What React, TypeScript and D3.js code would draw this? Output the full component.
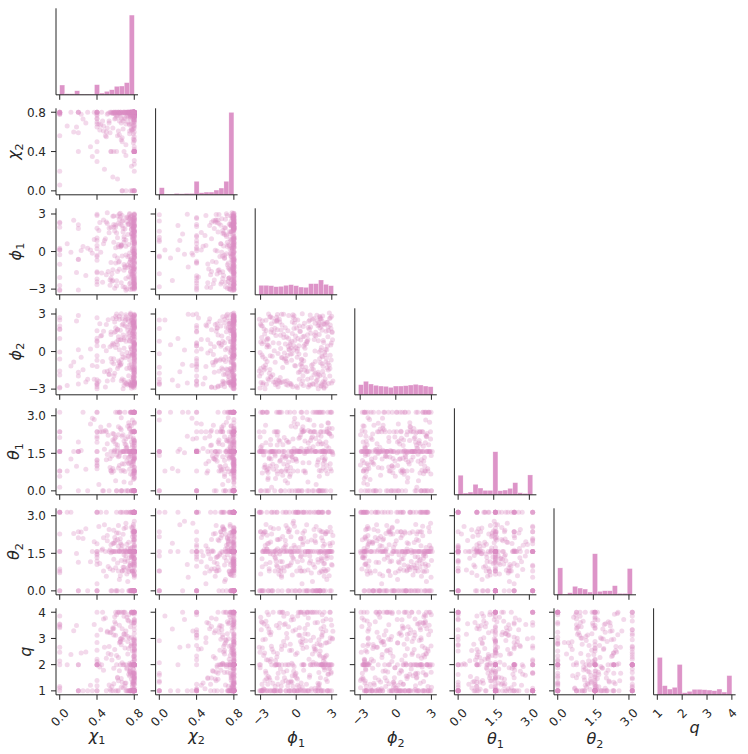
import React from 'react';
import * as d3 from 'd3';

// samples, one array per parameter
const chi1 = [
  0.78, 0.8, 0.4, 0.76, 0.62, 0.8, 0.79, 0, 0.71, 0.8, 0.77, 0.55, 0.8, 0.78, 0.66, 0.8, 0.75, 0.79, 0.4, 0.8,
  0.8, 0.2, 0.79, 0.68, 0.8, 0, 0.77, 0.8, 0.58, 0.8, 0.74, 0.4, 0.79, 0.8, 0.63, 0.76, 0, 0.8, 0.78, 0.51,
  0.79, 0.8, 0.65, 0.4, 0.8, 0.77, 0.8, 0.72, 0, 0.8, 0.6, 0.79, 0.8, 0.76, 0.47, 0.8, 0.78, 0.12, 0.8, 0.69,
  0.8, 0.76, 0.4, 0.8, 0.79, 0.56, 0.8, 0, 0.78, 0.8, 0.67, 0.2, 0.8, 0.75, 0.8, 0.61, 0.79, 0.8, 0.73, 0.4,
  0.77, 0.8, 0, 0.8, 0.64, 0.79, 0.8, 0.4, 0.78, 0.53, 0.8, 0.76, 0.8, 0.7, 0.8, 0.3, 0.79, 0.8, 0.59, 0,
  0.8, 0.78, 0.66, 0.8, 0.2, 0.79, 0.8, 0.74, 0.4, 0.8, 0.77, 0.57, 0.8, 0, 0.8, 0.62, 0.76, 0.8, 0.79, 0.45,
  0.79, 0.8, 0.4, 0.8, 0.72, 0.78, 0.08, 0.8, 0.6, 0.8, 0.77, 0.8, 0.68, 0, 0.79, 0.8, 0.5, 0.76, 0.8, 0.4,
  0.8, 0.75, 0.8, 0.63, 0.79, 0, 0.8, 0.4, 0.78, 0.8, 0.7, 0.8, 0.2, 0.77, 0.55, 0.8, 0.79, 0.8, 0.65, 0.35,
  0.78, 0.8, 0.61, 0.4, 0.8, 0.79, 0, 0.8, 0.73, 0.76, 0.8, 0.25, 0.8, 0.67, 0.8, 0.79, 0.58, 0.4, 0.8, 0.77,
  0.8, 0.79, 0, 0.8, 0.69, 0.4, 0.8, 0.76, 0.2, 0.8, 0.64, 0.78, 0.8, 0.46, 0.8, 0.75, 0.8, 0.71, 0.4, 0.79,
  0.74, 0.57, 0.79, 0.68, 0.49, 0.8, 0.63, 0.71, 0.33, 0.77, 0.6, 0.75, 0.52, 0.8, 0.66, 0.78, 0.44, 0.72, 0.8, 0.59,
  0.7, 0.8, 0.54, 0.76, 0.65, 0.18, 0.79, 0.61, 0.73, 0.8, 0.48, 0.69, 0.77, 0.56, 0.8, 0.64, 0.75, 0.28, 0.78, 0.67,
  0.8, 0.62, 0.73, 0.5, 0.78, 0.69, 0.8, 0.58, 0.76, 0.42, 0.8, 0.66, 0.74, 0.79, 0.55, 0.71, 0.8, 0.64, 0.37, 0.77,
  0.6, 0.79, 0.7, 0.8, 0.53, 0.75, 0.67, 0.8, 0.47, 0.72, 0.78, 0.63, 0.8, 0.57, 0.74, 0.23, 0.79, 0.68, 0.8, 0.51,
  0.76, 0.65, 0.8, 0.71, 0.59, 0.78, 0.43, 0.8, 0.69, 0.62, 0.77, 0.8, 0.54, 0.73, 0.15, 0.79, 0.66, 0.8, 0.58, 0.75,
];
const chi2 = [
  0.8, 0.79, 0.4, 0.8, 0.77, 0.8, 0.66, 0.8, 0, 0.78, 0.8, 0.4, 0.72, 0.8, 0.79, 0.8, 0.58, 0.76, 0.8, 0.4,
  0.79, 0.8, 0.8, 0.63, 0.4, 0.78, 0.8, 0.75, 0.8, 0, 0.8, 0.7, 0.79, 0.4, 0.8, 0.77, 0.8, 0.52, 0.8, 0.78,
  0.8, 0.4, 0.76, 0.8, 0.79, 0.68, 0.8, 0.8, 0.2, 0.78, 0.8, 0.74, 0.4, 0.8, 0.61, 0.79, 0, 0.8, 0.77, 0.8,
  0.78, 0.8, 0.73, 0.4, 0.8, 0.79, 0.8, 0.56, 0.8, 0.76, 0, 0.8, 0.8, 0.67, 0.79, 0.4, 0.8, 0.75, 0.8, 0.3,
  0.8, 0.77, 0.8, 0.4, 0.79, 0.8, 0.64, 0.8, 0.78, 0.71, 0.8, 0, 0.8, 0.79, 0.45, 0.8, 0.76, 0.4, 0.8, 0.8,
  0.79, 0.8, 0.69, 0.8, 0.4, 0.78, 0.8, 0.8, 0.74, 0, 0.8, 0.79, 0.6, 0.8, 0.77, 0.12, 0.8, 0.4, 0.78, 0.8,
  0.8, 0.76, 0.8, 0.4, 0.79, 0.8, 0.66, 0.8, 0.78, 0.8, 0.25, 0.75, 0.8, 0.79, 0.4, 0.8, 0.55, 0.8, 0, 0.77,
  0.78, 0.8, 0.4, 0.8, 0.72, 0.79, 0.8, 0.8, 0.62, 0.77, 0.8, 0, 0.8, 0.79, 0.4, 0.8, 0.7, 0.76, 0.8, 0.35,
  0.8, 0.79, 0.8, 0.65, 0.4, 0.8, 0.78, 0.2, 0.8, 0.76, 0.8, 0.73, 0.79, 0, 0.8, 0.8, 0.4, 0.68, 0.77, 0.8,
  0.79, 0.8, 0.06, 0.8, 0.4, 0.78, 0.8, 0.75, 0.59, 0.8, 0.79, 0, 0.8, 0.71, 0.4, 0.8, 0.77, 0.8, 0.5, 0.8,
  0.79, 0.64, 0.8, 0.71, 0.56, 0.77, 0.8, 0.68, 0.45, 0.8, 0.74, 0.61, 0.79, 0.8, 0.52, 0.76, 0.67, 0.8, 0.31, 0.73,
  0.8, 0.7, 0.59, 0.78, 0.8, 0.65, 0.49, 0.76, 0.8, 0.72, 0.22, 0.79, 0.63, 0.8, 0.75, 0.57, 0.8, 0.69, 0.78, 0.54,
  0.66, 0.8, 0.77, 0.6, 0.8, 0.73, 0.42, 0.79, 0.8, 0.68, 0.55, 0.8, 0.75, 0.63, 0.8, 0.36, 0.77, 0.71, 0.8, 0.62,
  0.8, 0.58, 0.74, 0.8, 0.69, 0.79, 0.5, 0.8, 0.66, 0.76, 0.8, 0.61, 0.72, 0.14, 0.8, 0.78, 0.53, 0.8, 0.7, 0.64,
  0.73, 0.8, 0.67, 0.47, 0.79, 0.8, 0.62, 0.75, 0.8, 0.56, 0.77, 0.27, 0.8, 0.7, 0.6, 0.8, 0.74, 0.51, 0.8, 0.68,
];
const phi1 = [
  -2.91, 1.37, 0.22, -1.65, 2.84, -0.48, 2.11, -3.05, 0.93, -2.27, 1.79, -0.87, 3.02, -1.12, 0.51, 2.46, -2.58, -0.15, 1.08, -1.94,
  2.67, -0.63, -2.39, 1.56, 0.07, -3.11, 2.02, -1.37, 0.74, 2.93, -2.02, -0.29, 1.92, -2.76, 0.38, -1.58, 2.29, -0.99, 1.23, 3.09,
  -1.81, 0.64, 2.18, -2.63, -0.41, 1.45, -3.01, 2.75, 0.15, -1.24, 1.97, -2.15, 0.86, -0.72, 2.52, -2.88, 1.14, -0.05, 2.07, -1.49,
  0.31, -2.47, 2.88, -0.94, 1.66, -1.77, 0.58, 2.33, -2.99, 1.01, -0.36, 2.14, -1.63, 2.61, -0.21, -2.33, 1.82, 0.47, -1.06, 2.98,
  -0.58, 2.41, -2.71, 1.29, -1.42, 0.02, 2.96, -2.19, 0.69, 1.88, -0.81, -2.82, 2.23, -1.17, 1.52, 0.26, -2.54, 2.71, -0.33, 1.95,
  1.71, -1.89, 0.44, 2.57, -3.08, -0.67, 1.18, 2.26, -2.42, 0.81, -1.31, 2.81, 0.11, -2.07, 1.61, -0.52, 2.39, -2.94, 0.99, -1.71,
  -2.23, 0.18, 1.87, -0.77, 2.69, -1.53, 0.62, -2.66, 2.12, -0.09, 1.41, -2.97, 2.48, -1.01, 0.35, 1.99, -1.85, 2.79, -0.44, 0.89,
  2.21, -1.19, -2.51, 0.56, 1.33, -0.25, 2.91, -1.69, 0.04, 2.04, -2.85, 1.63, -0.61, 2.35, -2.12, 0.78, 1.91, -1.45, 3.06, -0.13,
  0.95, -2.79, 1.49, -0.39, 2.63, -1.97, 0.27, 2.09, -1.28, -3.04, 1.74, 0.41, -0.91, 2.44, -2.36, 1.06, 2.17, -1.61, -0.19, 2.86,
  -1.35, 2.28, 0.13, -2.61, 1.19, -0.7, 2.54, -2.09, 1.84, -0.02, 2.99, -1.78, 0.67, -2.45, 2.01, -0.85, 1.58, -3.1, 0.49, 2.31,
  0.57, -1.46, 2.62, -2.81, 1.02, -0.33, 2.27, -2.16, 0.12, 1.76, -0.92, 2.95, -1.59, 0.71, -2.49, 1.43, -0.06, 2.39, -1.23, -2.93,
  1.83, -0.55, -2.28, 2.72, 0.36, -1.67, 1.28, -2.74, 2.16, -0.18, 0.88, -1.04, 2.51, -2.37, 1.59, -0.79, 3.03, -1.91, 0.23, 2.09,
  -2.6, 1.11, -0.42, 2.36, -1.14, 0.74, -2.03, 2.83, -0.65, 1.68, -2.88, 0.47, 2.19, -1.52, 1.94, -0.27, -2.21, 2.58, 0.96, -1.8,
  0.31, 2.45, -1.27, -2.55, 1.5, -0.11, 2.87, -1.74, 0.63, -2.99, 2.02, -0.86, 1.21, -2.31, 2.67, 0.08, -1.39, 1.86, -0.5, 2.24,
  -1.06, 2.78, -2.45, 0.42, 1.64, -0.74, 2.31, -2.12, 0.99, -1.6, 2.12, -0.22, -2.7, 1.37, 2.5, -1.33, 0.55, -2.86, 1.97, -0.37,
];
const phi2 = [
  1.12, -2.58, 0.47, 2.73, -1.36, -0.21, 2.05, -2.91, 0.83, -1.74, 2.48, -0.56, 1.59, -2.42, 3.01, 0.16, -1.07, 2.26, -2.66, 0.71,
  -0.94, 2.87, -2.17, 1.33, 0.02, -1.55, 2.61, -2.49, 0.58, 1.85, -0.38, -2.81, 2.14, -1.21, 0.92, 2.95, -1.88, -0.12, 1.47, -2.35,
  2.39, -0.73, 1.71, -2.98, 0.29, -1.43, 2.18, -2.55, 1.04, -0.47, 2.79, -1.99, 0.63, -2.7, 1.62, -0.28, 2.52, -1.15, 0.11, -2.29,
  -1.62, 0.37, 2.69, -2.38, 1.25, -0.85, 2.01, -2.86, 0.76, 1.93, -0.17, -2.6, 2.43, -1.31, 0.49, 2.99, -2.04, -0.62, 1.38, -2.52,
  0.19, -2.44, 1.81, -1.09, 2.57, -2.77, 0.68, -0.33, 2.27, -1.81, 1.16, -2.63, 2.84, -0.49, 0.97, -2.21, 1.68, -1.48, 2.36, -0.04,
  -2.68, 1.51, -0.66, 2.32, -1.96, 0.41, 2.92, -2.41, 1.07, -1.26, 0.24, 2.64, -2.89, 1.77, -0.79, 0.55, -2.53, 2.09, -1.58, 1.29,
  2.76, -1.68, 0.86, -2.33, 1.97, -0.15, -2.72, 1.41, 0.33, 2.55, -1.02, -2.47, 2.2, -0.59, 1.63, -1.91, 0.07, 3.07, -2.57, 0.79,
  -0.41, 2.12, -2.62, 1.19, -1.39, 2.71, 0.52, -2.26, 1.88, -0.9, 2.45, -1.73, 0.14, -2.93, 1.56, -0.25, 2.3, -2.39, 0.95, -1.12,
  1.35, -2.5, 2.63, -0.7, 0.45, -1.85, 2.04, -2.74, 1.73, -0.08, 2.89, -1.45, 0.61, -2.19, 1.01, 2.42, -0.97, -2.59, 1.84, -0.3,
  -2.08, 0.89, 2.51, -1.33, -2.69, 1.66, -0.53, 2.23, -1.66, 0.3, 2.81, -2.45, 1.22, -0.8, 1.9, -2.64, 0.04, 2.58, -1.19, 0.73,
  -1.93, 0.66, 2.34, -0.44, -2.84, 1.45, -1.17, 2.77, 0.21, -2.3, 1.91, -0.68, 2.53, -1.5, 0.94, -2.61, 1.24, -0.07, 2.97, -1.73,
  2.06, -2.54, 0.38, 1.69, -1.03, 2.44, -2.11, 0.79, -0.35, 2.85, -1.62, 1.13, -2.75, 0.51, 2.27, -0.88, 1.52, -2.43, -0.19, 2.61,
  -0.6, 1.78, -2.67, 2.16, -1.28, 0.27, 2.68, -1.95, 1.04, -2.38, 0.62, -0.98, 2.41, -2.82, 1.36, 2.93, -1.44, 0.15, -2.21, 1.87,
  1.61, -0.24, -2.48, 2.49, -1.84, 0.88, 2.12, -2.65, 0.43, -1.35, 2.73, -0.76, 1.97, -2.27, 1.18, -0.45, 2.35, -2.97, 0.7, -1.58,
  2.98, -1.1, 0.55, -2.6, 1.55, -0.31, 2.22, -2.05, 0.97, 1.74, -2.76, 0.12, -1.47, 2.58, -0.83, 1.3, -2.34, 2.04, -0.58, 0.83,
];
const theta1 = [
  1.57, 0, 2.1, 3.14, 1.57, 0.93, 2.36, 1.57, 0, 1.32, 3.14, 0.79, 1.57, 1.84, 0, 1.57, 2.62, 3.14, 1.12, 1.57,
  3.14, 1.57, 0.45, 1.57, 0, 2.36, 1.57, 1.98, 0.79, 3.14, 1.57, 1.21, 0, 1.57, 2.24, 0.67, 3.14, 1.57, 2.36, 1.45,
  0, 1.57, 3.14, 1.03, 1.57, 2.36, 0, 1.71, 1.57, 0.79, 3.14, 2.05, 1.57, 0.31, 0, 1.57, 2.83, 1.27, 3.14, 1.57,
  1.57, 3.14, 0.88, 0, 1.57, 1.39, 2.36, 1.57, 3.14, 1.91, 0, 1.57, 0.79, 2.47, 1.57, 0, 1.15, 3.14, 1.57, 2.18,
  0, 1.57, 2.36, 1.62, 3.14, 1.57, 0.79, 0.99, 1.57, 0, 2.01, 3.14, 1.57, 1.35, 2.36, 0, 1.57, 2.7, 1.57, 0.58,
  3.14, 1.57, 0, 1.78, 1.57, 0.79, 2.36, 1.08, 3.14, 1.57, 0, 2.29, 1.57, 0.14, 1.57, 3.14, 1.48, 0, 1.57, 2.36,
  1.57, 0, 1.24, 3.14, 1.57, 2.36, 0.79, 1.57, 1.87, 0, 3.14, 1.57, 0.82, 2.13, 1.57, 0, 2.36, 1.57, 1.41, 3.14,
  0, 1.57, 3.14, 2.56, 1.57, 0.79, 0, 1.57, 1.18, 2.36, 3.14, 1.57, 1.95, 0, 1.57, 0.72, 3.14, 1.57, 1.52, 2.9,
  1.57, 3.14, 0, 1.57, 2.36, 1.06, 1.57, 0.79, 0, 2.15, 1.57, 3.14, 1.3, 1.57, 0.52, 0, 1.57, 2.36, 1.69, 3.14,
  3.14, 1.57, 0.79, 0, 1.57, 1.94, 2.36, 1.57, 0, 1.26, 3.14, 1.57, 2.4, 0, 1.57, 0.86, 3.14, 1.57, 2.36, 1.61,
  1.12, 2.03, 0.68, 1.57, 2.41, 1.35, 0.91, 1.84, 2.67, 1.02, 0.4, 1.57, 2.22, 1.49, 0.79, 1.76, 2.55, 1.19, 3.14, 1.63,
  1.87, 0.57, 1.28, 2.31, 1.57, 0.98, 2.11, 1.43, 0, 2.74, 1.66, 1.07, 1.95, 0.73, 2.36, 1.39, 2.49, 0.86, 1.57, 2.18,
  0.95, 1.71, 2.58, 1.24, 0.62, 1.99, 1.57, 2.27, 1.15, 0.25, 1.81, 2.44, 1.33, 3.14, 0.81, 2.07, 1.54, 1.01, 2.85, 1.46,
  2.14, 1.29, 0.77, 1.92, 2.62, 1.57, 1.08, 0.49, 2.38, 1.74, 0, 1.36, 2.01, 0.89, 2.72, 1.61, 1.18, 2.24, 0.66, 1.88,
  1.41, 2.5, 0.84, 1.69, 2.09, 1.0, 2.36, 1.27, 0.35, 1.83, 2.6, 1.52, 0.93, 2.16, 1.57, 1.22, 2.92, 0.71, 1.97, 1.36,
];
const theta2 = [
  0, 1.57, 3.14, 1.02, 0, 1.57, 2.36, 3.14, 1.57, 0.79, 0, 1.84, 1.57, 3.14, 1.21, 0, 1.57, 2.58, 3.14, 1.45,
  3.14, 0, 1.57, 0.94, 1.57, 3.14, 0, 2.07, 1.57, 2.36, 0, 1.33, 3.14, 1.57, 0.79, 1.68, 0, 1.57, 3.14, 2.21,
  1.57, 0, 3.14, 1.57, 1.12, 0, 2.36, 3.14, 1.57, 0.61, 0, 1.95, 3.14, 1.57, 0.79, 0, 1.39, 3.14, 1.57, 2.49,
  0, 3.14, 1.57, 1.76, 0, 1.57, 3.14, 0.87, 2.36, 1.57, 0, 2.12, 3.14, 1.57, 1.27, 0, 3.14, 0.79, 1.57, 1.05,
  3.14, 1.57, 0, 2.03, 1.57, 3.14, 0, 1.48, 0.79, 1.57, 3.14, 0, 2.36, 1.16, 1.57, 0, 2.65, 3.14, 1.57, 0.72,
  0, 1.57, 3.14, 1.29, 0, 2.36, 1.57, 3.14, 1.88, 0, 0.79, 1.57, 3.14, 2.27, 0, 1.57, 1.09, 3.14, 1.57, 1.62,
  1.57, 3.14, 0, 0.98, 1.57, 0, 3.14, 2.36, 1.57, 1.73, 0, 3.14, 1.57, 0.79, 1.36, 0, 3.14, 1.57, 2.16, 0,
  3.14, 0, 1.57, 2.31, 0, 3.14, 1.57, 1.19, 0.79, 0, 1.57, 3.14, 2.36, 1.51, 0, 1.57, 3.14, 0.66, 1.92, 1.57,
  0, 1.57, 3.14, 1.43, 2.36, 0, 1.57, 3.14, 0.91, 0, 1.57, 2.09, 3.14, 0.79, 1.57, 0, 1.26, 3.14, 1.57, 2.54,
  1.57, 0, 3.14, 1.81, 1.57, 0, 2.36, 3.14, 1.14, 0, 1.57, 0.79, 3.14, 1.67, 0, 1.57, 2.0, 3.14, 0.28, 1.57,
  1.94, 0.82, 1.41, 2.26, 1.57, 0.63, 1.78, 2.53, 1.16, 0, 2.01, 1.33, 0.97, 2.39, 1.67, 1.05, 3.14, 1.86, 0.54, 2.13,
  1.25, 2.44, 0.88, 1.57, 2.08, 1.49, 0.71, 2.31, 1.19, 1.82, 2.64, 0.94, 1.38, 0, 2.2, 1.6, 1.02, 2.48, 1.73, 0.79,
  2.36, 1.11, 1.69, 0.58, 2.17, 1.44, 3.14, 1.89, 0.99, 2.57, 1.28, 1.57, 0.76, 2.04, 1.52, 2.7, 1.13, 0.45, 1.96, 1.35,
  0.92, 2.27, 1.62, 1.07, 2.45, 0, 1.8, 1.3, 2.12, 0.67, 1.57, 2.61, 1.2, 1.9, 0.85, 2.35, 1.47, 3.14, 1.03, 2.0,
  1.71, 0.6, 2.22, 1.4, 1.93, 2.51, 1.09, 1.57, 0.83, 2.05, 1.32, 2.78, 1.64, 0.37, 2.29, 1.17, 1.85, 0.96, 2.42, 1.54,
];
const q = [
  1, 2, 3.12, 1, 4, 1.33, 2, 2.47, 1, 1.5, 3.61, 1, 2, 4, 1.14, 2.83, 1.75, 1, 2.21, 4,
  2, 1, 1.25, 4, 1, 2.66, 2, 1, 3.38, 1.67, 1, 2, 2.95, 1.08, 4, 1, 2.14, 1.5, 2, 3.27,
  1, 4, 2, 1.4, 1, 3.05, 2, 1.83, 1, 2.58, 4, 1, 1.25, 2, 3.74, 1, 1.6, 2.39, 1, 2,
  4, 1, 2, 2.73, 1, 1.17, 2, 3.46, 1, 4, 1.33, 2, 2.29, 1, 1.75, 3.9, 1, 2, 2.88, 1,
  1, 2, 3.55, 1, 4, 1.5, 2, 2.12, 1, 1.22, 3.19, 1, 2, 4, 2.61, 1, 1.67, 2, 3.83, 1.11,
  2, 1, 4, 2.36, 1, 1.33, 2, 3.67, 1, 2.91, 4, 1, 1.45, 2, 2.52, 1, 1.8, 3.33, 1, 2,
  1, 4, 2, 3.02, 1, 1.25, 2, 2.44, 1, 1.62, 4, 1, 2, 3.52, 1.05, 2.77, 1, 2, 1.38, 4,
  1, 2, 2.19, 1, 4, 1.17, 3.71, 2, 1, 1.5, 2.64, 1, 2, 4, 3.24, 1, 1.7, 2, 2.98, 1,
  4, 1, 2, 2.55, 1, 1.29, 3.41, 2, 1, 1.88, 4, 1, 2, 2.07, 1.55, 1, 3.13, 2, 1, 4,
  1, 2, 3.86, 1, 4, 1.2, 2, 2.7, 1, 1.67, 3.5, 1, 2, 4, 2.33, 1, 1.1, 2, 2.85, 1,
  2.62, 3.41, 1.36, 2.95, 3.78, 1.58, 2.27, 3.14, 1.21, 2.8, 3.56, 1.72, 2.43, 3.92, 1.47, 2.09, 3.33, 1.88, 2.71, 3.64,
  1.29, 2.54, 3.22, 1.63, 2.88, 3.49, 1.08, 2.35, 3.07, 1.93, 2.66, 3.85, 1.44, 2.18, 3.6, 1.77, 3.01, 2.48, 1.16, 3.37,
  2.97, 1.52, 3.7, 2.24, 1.34, 3.18, 2.59, 1.86, 3.45, 2.03, 1.25, 2.76, 3.9, 1.67, 2.39, 3.28, 1.41, 2.84, 3.53, 1.98,
  3.12, 2.31, 1.18, 3.66, 2.69, 1.57, 3.03, 2.15, 1.79, 3.81, 2.52, 1.39, 2.92, 3.36, 1.63, 2.44, 3.58, 1.12, 2.78, 3.24,
  1.71, 2.87, 3.47, 1.3, 2.58, 3.95, 1.91, 2.21, 3.16, 1.49, 2.73, 3.72, 1.06, 2.41, 3.29, 1.83, 2.99, 3.61, 1.27, 2.05,
];

// diagonal histogram bar heights (15 bins each, shared y)
const chi1Counts = [29, 3, 3, 12, 2, 2, 2, 30, 5, 10, 15, 25, 26, 36, 237];
const chi2Counts = [21, 2, 2, 4, 3, 4, 4, 40, 6, 8, 8, 14, 20, 40, 245];
const phi1Counts = [28, 28, 27, 24, 25, 28, 30, 27, 23, 22, 33, 33, 44, 31, 27];
const phi2Counts = [30, 40, 32, 28, 26, 25, 22, 26, 26, 27, 29, 31, 29, 26, 24];
const theta1Counts = [58, 5, 8, 31, 20, 13, 13, 128, 12, 14, 19, 36, 6, 4, 59];
const theta2Counts = [80, 2, 6, 25, 20, 17, 8, 122, 10, 12, 12, 27, 4, 4, 78];
const qCounts = [111, 27, 17, 22, 90, 6, 10, 16, 16, 15, 14, 12, 17, 8, 57];

const symbols = ['χ', 'χ', 'ϕ', 'ϕ', 'θ', 'θ', 'q'];
const subscripts = ['1', '2', '1', '2', '1', '2', ''];
const extents: [number, number][] = [
  [0, 0.8], [0, 0.8], [-3.14, 3.14], [-3.14, 3.14], [0, 3.14], [0, 3.14], [1, 4],
];
const chiTicks = [0, 0.4, 0.8];
const phiTicks = [-3, 0, 3];
const thetaTicks = [0, 1.5, 3];
const qTicks = [1, 2, 3, 4];
const chiTickLabels = ['0.0', '0.4', '0.8'];
const phiTickLabels = ['\u22123', '0', '3'];
const thetaTickLabels = ['0.0', '1.5', '3.0'];
const qTickLabels = ['1', '2', '3', '4'];

const samples = [chi1, chi2, phi1, phi2, theta1, theta2, q];
const histCounts = [chi1Counts, chi2Counts, phi1Counts, phi2Counts, theta1Counts, theta2Counts, qCounts];
const ticks = [chiTicks, chiTicks, phiTicks, phiTicks, thetaTicks, thetaTicks, qTicks];
const tickLabels = [chiTickLabels, chiTickLabels, phiTickLabels, phiTickLabels, thetaTickLabels, thetaTickLabels, qTickLabels];

const WIDTH = 748;
const HEIGHT = 754;
const LEFT = 56;
const TOP = 8.3;
const STEP_X = 99.6;
const STEP_Y = 100;
const PW = 82;
const PH = 86.5;
const COLOR = '#DA8BC3';
const INK = '#262626';
const FONT = 'DejaVu Sans, sans-serif';
const TICK_FS = 12;
const LABEL_FS = 16;
const TICK_LEN = 5;
const YTICK_GAP = 10;
const XTICK_GAP = 12;
const LABEL_PAD = 4;

// rough DejaVu Sans advance widths (em)
const charW = (c: string) => (c === '.' ? 0.318 : c === '\u2212' ? 0.838 : 0.636);
const textW = (s: string, fs: number) => s.split('').reduce((a, c) => a + charW(c) * fs, 0);
const rotBox = (s: string) => (textW(s, TICK_FS) + TICK_FS * 0.9) * Math.SQRT1_2;
// glyph ascent above baseline (em) for the math symbol
const ascent = (s: string) => (s === 'θ' || s === 'ϕ' ? 0.76 : 0.56);

const MathLabel: React.FC<{ sym: string; sub: string }> = ({ sym, sub }) => (
  <>
    <tspan fontStyle="italic">{sym}</tspan>
    {sub && (
      <tspan fontSize={LABEL_FS * 0.7} dy={LABEL_FS * 0.22}>
        {sub}
      </tspan>
    )}
  </>
);

export default function App() {
  const n = symbols.length;
  const xScales = extents.map(([lo, hi]) => {
    const pad = (hi - lo) * 0.05;
    return d3.scaleLinear().domain([lo - pad, hi + pad]).range([0, PW]);
  });
  const yScales = extents.map(([lo, hi]) => {
    const pad = (hi - lo) * 0.05;
    return d3.scaleLinear().domain([lo - pad, hi + pad]).range([PH, 0]);
  });
  const maxCount = d3.max(histCounts.flat()) as number;
  const yHist = d3.scaleLinear().domain([0, maxCount * 1.05]).range([PH, 0]);

  const panels: React.ReactNode[] = [];
  for (let i = 0; i < n; i++) {
    for (let j = 0; j <= i; j++) {
      const x0 = LEFT + j * STEP_X;
      const y0 = TOP + i * STEP_Y;
      const xs = xScales[j];
      const ys = yScales[i];
      const diag = i === j;
      const bottomRow = i === n - 1;
      const leftCol = j === 0;

      let marks: React.ReactNode;
      if (diag) {
        const counts = histCounts[j];
        const [lo, hi] = extents[j];
        const bw = (hi - lo) / counts.length;
        marks = counts.map((c, k) => {
          const a = xs(lo + k * bw);
          const b = xs(lo + (k + 1) * bw);
          return (
            <rect
              key={k}
              x={a}
              y={yHist(c)}
              width={b - a}
              height={PH - yHist(c)}
              fill={COLOR}
              fillOpacity={0.92}
              stroke="#fff"
              strokeOpacity={0.45}
              strokeWidth={0.5}
            />
          );
        });
      } else {
        const xv = samples[j];
        const yv = samples[i];
        marks = xv.map((v, k) => (
          <circle key={k} cx={xs(v)} cy={ys(yv[k])} r={2.5} fill={COLOR} fillOpacity={0.33} />
        ));
      }

      const xTickMarks = ticks[j].map((t, k) => {
        const lbl = tickLabels[j][k];
        return (
          <g key={'xt' + k}>
            <line x1={xs(t)} x2={xs(t)} y1={PH} y2={PH + TICK_LEN} stroke={INK} strokeWidth={1} />
            {bottomRow && (
              <text
                transform={`translate(${xs(t)},${PH + XTICK_GAP + rotBox(lbl) / 2}) rotate(-45)`}
                textAnchor="middle"
                dy="0.36em"
                fontSize={TICK_FS}
                fill={INK}
              >
                {lbl}
              </text>
            )}
          </g>
        );
      });

      const yTickMarks = !diag
        ? ticks[i].map((t, k) => (
            <g key={'yt' + k}>
              <line x1={-TICK_LEN} x2={0} y1={ys(t)} y2={ys(t)} stroke={INK} strokeWidth={1} />
              {leftCol && (
                <text x={-YTICK_GAP} y={ys(t)} dy="0.36em" textAnchor="end" fontSize={TICK_FS} fill={INK}>
                  {tickLabels[i][k]}
                </text>
              )}
            </g>
          ))
        : null;

      let xLabel: React.ReactNode = null;
      if (bottomRow) {
        const boxMax = d3.max(tickLabels[j], rotBox) as number;
        const top = PH + XTICK_GAP + boxMax + LABEL_PAD;
        xLabel = (
          <text x={PW / 2} y={top + ascent(symbols[j]) * LABEL_FS} textAnchor="middle" fontSize={LABEL_FS} fill={INK}>
            <MathLabel sym={symbols[j]} sub={subscripts[j]} />
          </text>
        );
      }

      let yLabel: React.ReactNode = null;
      if (leftCol && !diag) {
        const wMax = d3.max(tickLabels[i], (l) => textW(l, TICK_FS)) as number;
        const bx = -YTICK_GAP - wMax - LABEL_PAD - 3.7;
        yLabel = (
          <text
            transform={`translate(${bx},${PH / 2}) rotate(-90)`}
            textAnchor="middle"
            fontSize={LABEL_FS}
            fill={INK}
          >
            <MathLabel sym={symbols[i]} sub={subscripts[i]} />
          </text>
        );
      }

      panels.push(
        <g key={`${i}-${j}`} transform={`translate(${x0},${y0})`}>
          {marks}
          <line x1={0} x2={0} y1={0} y2={PH} stroke={INK} strokeWidth={1} />
          <line x1={0} x2={PW} y1={PH} y2={PH} stroke={INK} strokeWidth={1} />
          {xTickMarks}
          {yTickMarks}
          {xLabel}
          {yLabel}
        </g>
      );
    }
  }

  return (
    <div style={{ position: 'absolute', left: 0, top: 0 }}>
      <svg width={WIDTH} height={HEIGHT} style={{ display: 'block', fontFamily: FONT }}>
        <rect width={WIDTH} height={HEIGHT} fill="#fff" />
        {panels}
      </svg>
    </div>
  );
}
